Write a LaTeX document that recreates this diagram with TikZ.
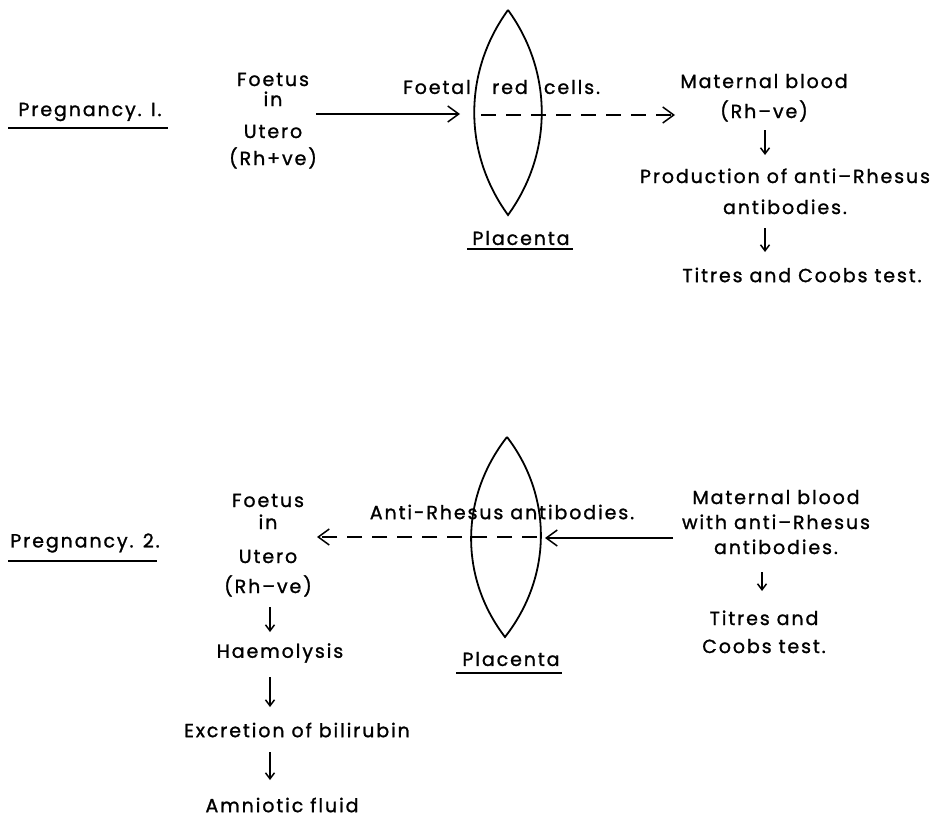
\documentclass[tikz,border=0pt]{standalone}
\usepackage{fontspec}
\newfontfamily\lfont[LetterSpace=10,FakeBold=1.2]{Poppins}
\usetikzlibrary{arrows.meta}
\newcommand\lblfont{\fontsize{19}{23}\selectfont\lfont}
\tikzset{
  lbl/.style={font=\lblfont, inner sep=0pt, align=center},
  ln/.style={line width=1.6pt},
  harr/.style={ln, -{Straight Barb[length=11pt,width=16pt,line width=1.5pt]}},
  darr/.style={harr, dash pattern=on 15pt off 10pt},
  varr/.style={ln, -{Straight Barb[length=6pt,width=9pt,line width=1.5pt]}},
  ul/.style={line width=1.6pt},
  lens/.style={line width=1.8pt}
}
\begin{document}
\begin{tikzpicture}[x=1pt,y=-1pt]
\useasboundingbox (0,0) rectangle (942,817);

% ---------- Pregnancy 1 ----------
\node[lbl] (p1) at (90,112) {Pregnancy. I.};
\draw[ul] (8,128) -- (168,128);

\node[lbl, anchor=base] (f1) at (273,165) {Foetus\\[-3pt]in\\[9pt]Utero\\[4pt](Rh+ve)};

\coordinate (l1t) at (508,10);
\coordinate (l1b) at (508,215);
\draw[lens] (l1t) .. controls (553,72) and (553,153) .. (l1b)
                  .. controls (463,153) and (463,72) .. (l1t);

\node[lbl] (fo) at (437,87) {Foetal};
\node[lbl] (rd) at (510,87) {red};
\node[lbl] (ce) at (572,87) {cells.};

\coordinate (a1s) at (316,114);
\coordinate (a1e) at (460,114);
\draw[harr] (a1s) -- (a1e);

\coordinate (d1s) at (481,115);
\coordinate (d1e) at (675,115);
\draw[darr] (d1s) -- (d1e);

\node[lbl, anchor=base] (m1) at (764,118) {Maternal blood\\[7pt](Rh–ve)};
\node[lbl, anchor=base] (pr) at (785,214) {Production of anti–Rhesus\\[8pt]antibodies.};
\node[lbl] (t1) at (802,275) {Titres and Coobs test.};
\draw[varr] (765,130) -- (765,155);
\draw[varr] (765,228) -- (765,252);

\node[lbl] (pl1) at (521,238) {Placenta};
\draw[ul] (467,249) -- (573,249);

% ---------- Pregnancy 2 ----------
\node[lbl] (p2) at (85,543) {Pregnancy. 2.};
\draw[ul] (8,561) -- (157,561);

\node[lbl, anchor=base] (f2) at (268,593) {Foetus\\[-1pt]in\\[11pt]Utero\\[7pt](Rh–ve)};

\node[lbl] (hm) at (280,653) {Haemolysis};
\node[lbl] (ex) at (297,730) {Excretion of bilirubin};
\node[lbl] (am) at (282,805) {Amniotic fluid};
\draw[varr] (270,607) -- (270,632);
\draw[varr] (270,677) -- (270,707);
\draw[varr] (270,752) -- (270,780);

\coordinate (l2t) at (507,437);
\coordinate (l2b) at (505,637);
\draw[lens] (l2t) .. controls (553,497) and (552,577) .. (l2b)
                  .. controls (459,577) and (460,497) .. (l2t);

\node[lbl] (ar) at (502,512) {Anti-Rhesus antibodies.};

\coordinate (d2s) at (537,537);
\coordinate (d2e) at (317,537);
\draw[darr] (d2s) -- (d2e);

\coordinate (a2s) at (673,538);
\coordinate (a2e) at (545,538);
\draw[harr] (a2s) -- (a2e);

\node[lbl, anchor=base] (m2) at (776,554) {Maternal blood\\[2pt]with anti–Rhesus\\[2pt]antibodies.};
\draw[varr] (762,572) -- (762,591);
\node[lbl, anchor=base] (t2) at (764,653) {Titres and\\[5pt]Coobs test.};

\node[lbl] (pl2) at (511,659) {Placenta};
\draw[ul] (456,673) -- (562,673);
\end{tikzpicture}
\end{document}
